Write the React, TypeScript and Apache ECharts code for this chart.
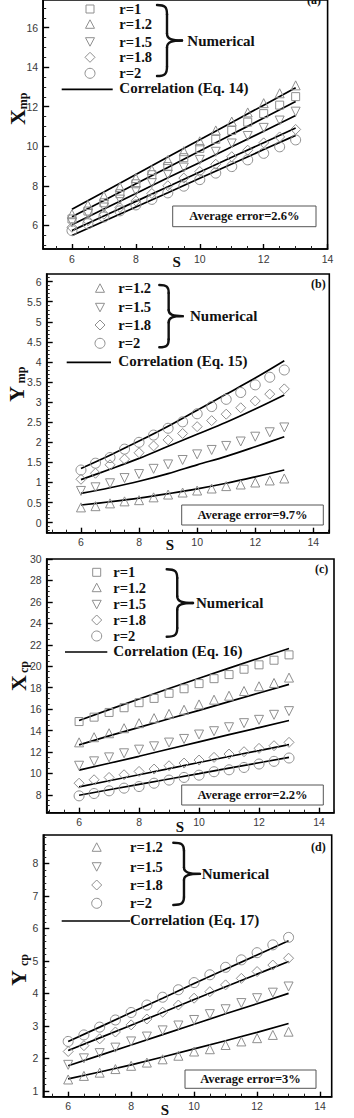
import React, { useEffect, useRef } from "react";
import * as echarts from "echarts";

// Spacing S at which the numerical results are sampled, and at which the correlation curves are listed
const S_PTS = [6, 6.5, 7, 7.5, 8, 8.5, 9, 9.5, 10, 10.5, 11, 11.5, 12, 12.5, 13];
const S_LINE = [6, 7, 8, 9, 10, 11, 12, 13];
const X_TICKS = [6, 8, 10, 12, 14];

// (a) X_mp
const A_R1 = [6.32, 6.72, 7.14, 7.6, 8.1, 8.56, 8.97, 9.42, 9.89, 10.35, 10.8, 11.22, 11.65, 12.08, 12.51];
const A_R12 = [6.56, 7.03, 7.48, 7.94, 8.39, 8.8, 9.3, 9.75, 10.25, 10.8, 11.25, 11.71, 12.18, 12.68, 13.08];
const A_R15 = [6.15, 6.57, 6.9, 7.3, 7.73, 8.14, 8.56, 8.92, 9.31, 9.72, 10.14, 10.52, 10.93, 11.3, 11.75];
const A_R18 = [5.9, 6.23, 6.56, 6.9, 7.23, 7.61, 8.0, 8.39, 8.72, 9.09, 9.47, 9.8, 10.17, 10.47, 10.85];
const A_R2 = [5.73, 6.08, 6.42, 6.73, 7.03, 7.31, 7.64, 7.98, 8.31, 8.64, 8.97, 9.31, 9.64, 9.97, 10.32];
const A_C_R12 = [6.81, 7.69, 8.57, 9.45, 10.33, 11.2, 12.08, 12.96];
const A_C_R1 = [6.43, 7.26, 8.1, 8.93, 9.76, 10.6, 11.43, 12.26];
const A_C_R15 = [6.03, 6.82, 7.61, 8.4, 9.18, 9.97, 10.76, 11.55];
const A_C_R18 = [5.73, 6.47, 7.21, 7.95, 8.7, 9.44, 10.18, 10.92];
const A_C_R2 = [5.48, 6.2, 6.93, 7.65, 8.38, 9.1, 9.83, 10.55];

// (b) Y_mp
const B_R12 = [0.38, 0.41, 0.48, 0.53, 0.56, 0.63, 0.7, 0.75, 0.8, 0.85, 0.91, 0.95, 1.0, 1.05, 1.1];
const B_R15 = [0.79, 0.88, 0.98, 1.11, 1.21, 1.34, 1.45, 1.56, 1.7, 1.81, 1.91, 2.02, 2.14, 2.25, 2.37];
const B_R18 = [1.08, 1.23, 1.44, 1.58, 1.74, 1.91, 2.06, 2.22, 2.39, 2.54, 2.7, 2.86, 3.03, 3.2, 3.33];
const B_R2 = [1.31, 1.48, 1.62, 1.83, 2.0, 2.18, 2.35, 2.51, 2.71, 2.89, 3.07, 3.24, 3.43, 3.62, 3.8];
const B_C_R12 = [0.44, 0.52, 0.61, 0.72, 0.84, 0.98, 1.14, 1.31];
const B_C_R15 = [0.73, 0.87, 1.03, 1.22, 1.44, 1.65, 1.89, 2.14];
const B_C_R18 = [1.07, 1.33, 1.6, 1.9, 2.2, 2.5, 2.83, 3.18];
const B_C_R2 = [1.35, 1.68, 2.03, 2.4, 2.8, 3.2, 3.6, 4.03];

// (c) X_cp
const C_R1 = [14.84, 15.25, 15.69, 16.13, 16.6, 17.0, 17.47, 17.9, 18.38, 18.84, 19.22, 19.72, 20.13, 20.56, 21.06];
const C_R12 = [12.9, 13.38, 13.75, 14.22, 14.69, 15.16, 15.56, 15.94, 16.44, 16.88, 17.25, 17.69, 18.13, 18.44, 18.94];
const C_R15 = [10.72, 11.13, 11.5, 11.88, 12.22, 12.53, 12.88, 13.22, 13.63, 13.94, 14.31, 14.69, 15.0, 15.47, 15.81];
const C_R18 = [9.09, 9.41, 9.63, 9.88, 10.19, 10.41, 10.72, 10.97, 11.25, 11.5, 11.81, 12.03, 12.34, 12.59, 12.9];
const C_R2 = [7.91, 8.13, 8.38, 8.63, 8.78, 9.09, 9.38, 9.63, 9.84, 10.16, 10.34, 10.56, 10.88, 11.13, 11.44];
const C_C_R1 = [14.94, 15.95, 16.95, 17.92, 18.88, 19.82, 20.75, 21.65];
const C_C_R12 = [12.66, 13.5, 14.3, 15.1, 15.88, 16.7, 17.5, 18.31];
const C_C_R15 = [10.31, 10.95, 11.6, 12.28, 12.95, 13.62, 14.28, 14.94];
const C_C_R18 = [8.75, 9.32, 9.88, 10.45, 11.02, 11.58, 12.13, 12.69];
const C_C_R2 = [7.97, 8.48, 8.98, 9.48, 9.98, 10.5, 11.0, 11.5];

// (d) Y_cp
const D_R12 = [1.35, 1.46, 1.56, 1.67, 1.77, 1.87, 1.97, 2.08, 2.21, 2.28, 2.41, 2.52, 2.62, 2.72, 2.82];
const D_R15 = [1.8, 2.0, 2.16, 2.33, 2.52, 2.67, 2.86, 3.01, 3.18, 3.36, 3.51, 3.7, 3.85, 4.02, 4.21];
const D_R18 = [2.21, 2.39, 2.6, 2.81, 3.03, 3.21, 3.42, 3.64, 3.85, 4.05, 4.26, 4.46, 4.67, 4.87, 5.08];
const D_R2 = [2.52, 2.72, 2.96, 3.18, 3.41, 3.64, 3.88, 4.11, 4.33, 4.57, 4.8, 5.03, 5.25, 5.49, 5.72];
const D_C_R12 = [1.37, 1.58, 1.8, 2.04, 2.29, 2.54, 2.8, 3.07];
const D_C_R15 = [1.77, 2.09, 2.41, 2.73, 3.05, 3.37, 3.68, 4.0];
const D_C_R18 = [2.24, 2.63, 3.02, 3.41, 3.81, 4.2, 4.59, 4.98];
const D_C_R2 = [2.52, 2.96, 3.41, 3.85, 4.3, 4.74, 5.18, 5.62];

const SERIF = '"Liberation Serif", "Times New Roman", serif';
const SANS = '"Liberation Sans", Arial, sans-serif';
const MARK = "#8f8f8f";
const LEGEND_FONT = 14.5;

type Kind = "square" | "up" | "down" | "diamond" | "circle";

const PANELS = [
  {
    tag: "(a)", box: [43.2, -3, 284.4, 252], xr: [5.1, 14], yr: [4.8, 17.4],
    yTicks: [6, 8, 10, 12, 14, 16], yMinor: 0.5, smooth: false,
    groups: [
      { name: "r=1", kind: "square" as Kind, pts: A_R1, corr: A_C_R1 },
      { name: "r=1.2", kind: "up" as Kind, pts: A_R12, corr: A_C_R12 },
      { name: "r=1.5", kind: "down" as Kind, pts: A_R15, corr: A_C_R15 },
      { name: "r=1.8", kind: "diamond" as Kind, pts: A_R18, corr: A_C_R18 },
      { name: "r=2", kind: "circle" as Kind, pts: A_R2, corr: A_C_R2 },
    ],
    lg: { mx: 90, lx: 119.3, ys: [9, 24.3, 41.7, 57.3, 73.3], brace: [157, 5, 76, 25], numX: 187.3, lineX: [61.7, 112.7], lineY: 89.3, corr: "Correlation (Eq. 14)" },
    tagPos: [314, 0], err: [172.7, 206, 143.3, 20.7], errText: "Average error=2.6%",
    yTitle: ["X", "mp", 17, 117, 22.5, 101], sPos: [176.7, 261.7],
  },
  {
    tag: "(b)", box: [46.7, 274, 282.6, 258.7], xr: [4.82, 14.55], yr: [-0.25, 6.19],
    yTicks: [0, 0.5, 1, 1.5, 2, 2.5, 3, 3.5, 4, 4.5, 5, 5.5, 6], yMinor: 0.1, smooth: true,
    groups: [
      { name: "r=1.2", kind: "up" as Kind, pts: B_R12, corr: B_C_R12 },
      { name: "r=1.5", kind: "down" as Kind, pts: B_R15, corr: B_C_R15 },
      { name: "r=1.8", kind: "diamond" as Kind, pts: B_R18, corr: B_C_R18 },
      { name: "r=2", kind: "circle" as Kind, pts: B_R2, corr: B_C_R2 },
    ],
    lg: { mx: 100, lx: 118.3, ys: [288.3, 307.3, 325, 343.3], brace: [159.3, 285, 347.3, 23.4], numX: 190, lineX: [66.7, 111], lineY: 362.3, corr: "Correlation (Eq. 15)" },
    tagPos: [318.3, 284], err: [181.7, 505, 141.6, 20], errText: "Average error=9.7%",
    yTitle: ["Y", "mp", 16, 394, 21, 375], sPos: [170, 545],
  },
  {
    tag: "(c)", box: [46.7, 559, 287.3, 253.7], xr: [4.92, 14.5], yr: [6.34, 30],
    yTicks: [8, 10, 12, 14, 16, 18, 20, 22, 24, 26, 28, 30], yMinor: 0.5, smooth: false,
    groups: [
      { name: "r=1", kind: "square" as Kind, pts: C_R1, corr: C_C_R1 },
      { name: "r=1.2", kind: "up" as Kind, pts: C_R12, corr: C_C_R12 },
      { name: "r=1.5", kind: "down" as Kind, pts: C_R15, corr: C_C_R15 },
      { name: "r=1.8", kind: "diamond" as Kind, pts: C_R18, corr: C_C_R18 },
      { name: "r=2", kind: "circle" as Kind, pts: C_R2, corr: C_C_R2 },
    ],
    lg: { mx: 96.7, lx: 113.3, ys: [572.3, 587.7, 604.3, 620, 636], brace: [166.7, 569.3, 636.7, 26.3], numX: 196, lineX: [65, 107.3], lineY: 652, corr: "Correlation (Eq. 16)" },
    tagPos: [321.7, 569.3], err: [181.7, 785, 141.6, 20], errText: "Average error=2.2%",
    yTitle: ["X", "cp", 18, 683, 23.5, 667], sPos: [180, 826.7],
  },
  {
    tag: "(d)", box: [43.3, 835, 288.4, 261.7], xr: [5.21, 14.37], yr: [0.82, 8.87],
    yTicks: [1, 2, 3, 4, 5, 6, 7, 8], yMinor: 0.2, smooth: false,
    groups: [
      { name: "r=1.2", kind: "up" as Kind, pts: D_R12, corr: D_C_R12 },
      { name: "r=1.5", kind: "down" as Kind, pts: D_R15, corr: D_C_R15 },
      { name: "r=1.8", kind: "diamond" as Kind, pts: D_R18, corr: D_C_R18 },
      { name: "r=2", kind: "circle" as Kind, pts: D_R2, corr: D_C_R2 },
    ],
    lg: { mx: 96.7, lx: 130, ys: [847.3, 866.7, 885, 903.3], brace: [173.3, 842.7, 905, 26.7], numX: 201.7, lineX: [61.7, 130], lineY: 921, corr: "Correlation (Eq. 17)" },
    tagPos: [318.3, 846.7], err: [185, 1070, 131, 18.3], errText: "Average error=3%",
    yTitle: ["Y", "cp", 18, 978, 23.5, 960], sPos: [165, 1109.5],
  },
];

// Tick positions between the labelled ones
function minorTicks(lo: number, hi: number, step: number, major: number[]) {
  const out: number[] = [];
  const start = Math.ceil(lo / step - 1e-9);
  const end = Math.floor(hi / step + 1e-9);
  for (let k = start; k <= end; k++) {
    const v = Math.round(k * step * 1000) / 1000;
    if (!major.some((m) => Math.abs(m - v) < 1e-6)) out.push(v);
  }
  return out;
}

const SYMBOL: Record<Kind, string> = {
  square: "rect", up: "triangle", down: "triangle", diamond: "diamond", circle: "circle",
};
const SYMBOL_SIZE: Record<Kind, number> = { square: 8, up: 9, down: 9, diamond: 10, circle: 10 };

function legendMarker(kind: Kind, cx: number, cy: number) {
  const style = { fill: "none", stroke: MARK, lineWidth: 1 };
  if (kind === "circle") return { type: "circle", shape: { cx, cy, r: 5 }, style };
  if (kind === "square") return { type: "rect", shape: { x: cx - 4, y: cy - 4, width: 8, height: 8 }, style };
  if (kind === "diamond")
    return { type: "polygon", shape: { points: [[cx, cy - 5], [cx + 5, cy], [cx, cy + 5], [cx - 5, cy]] }, style };
  if (kind === "up")
    return { type: "polygon", shape: { points: [[cx, cy - 4.5], [cx + 4.5, cy + 4], [cx - 4.5, cy + 4]] }, style };
  return { type: "polygon", shape: { points: [[cx, cy + 4.5], [cx + 4.5, cy - 4], [cx - 4.5, cy - 4]] }, style };
}

// Right-facing curly brace built from bezier segments
function brace(x0: number, top: number, bottom: number, w: number) {
  const h = bottom - top;
  const m = (top + bottom) / 2;
  const sx = x0 + w * 0.4;
  const tip = x0 + w;
  const st = { stroke: "#111", lineWidth: 2.4, fill: "none", lineCap: "round" };
  const bz = (x1: number, y1: number, c1x: number, c1y: number, c2x: number, c2y: number, x2: number, y2: number) => ({
    type: "bezierCurve",
    shape: { x1, y1, cpx1: c1x, cpy1: c1y, cpx2: c2x, cpy2: c2y, x2, y2 },
    style: st,
  });
  return [
    bz(x0, top, x0 + w * 0.32, top, sx, top + h * 0.03, sx, top + h * 0.13),
    { type: "line", shape: { x1: sx, y1: top + h * 0.13, x2: sx, y2: m - h * 0.1 }, style: st },
    bz(sx, m - h * 0.1, sx, m - h * 0.02, x0 + w * 0.6, m, tip, m),
    bz(tip, m, x0 + w * 0.6, m, sx, m + h * 0.02, sx, m + h * 0.1),
    { type: "line", shape: { x1: sx, y1: m + h * 0.1, x2: sx, y2: bottom - h * 0.13 }, style: st },
    bz(sx, bottom - h * 0.13, sx, bottom - h * 0.03, x0 + w * 0.32, bottom, x0, bottom),
  ];
}

function serifText(text: string, x: number, y: number, size: number, align = "left", extra: any = {}) {
  return {
    type: "text",
    x, y,
    ...extra,
    style: {
      text, fontSize: size, fontWeight: "bold", fontFamily: SERIF, fill: "#111",
      textAlign: align, align, textVerticalAlign: "middle", verticalAlign: "middle",
    },
  };
}

function buildOption() {
  const grid: any[] = [];
  const xAxis: any[] = [];
  const yAxis: any[] = [];
  const series: any[] = [];
  const graphic: any[] = [];
  const n = PANELS.length;

  PANELS.forEach((p, i) => {
    const [left, top, width, height] = p.box;
    grid.push({ left, top, width, height, show: true, borderColor: "#000", borderWidth: 1.6, backgroundColor: "transparent", containLabel: false });

    const labelStyle = { fontFamily: SANS, fontSize: 10.5, color: "#3a3a3a" };
    xAxis[i] = {
      gridIndex: i, type: "value", position: "bottom", min: p.xr[0], max: p.xr[1],
      axisLine: { show: true, onZero: false, lineStyle: { color: "#000", width: 1.6 } },
      axisTick: { show: true, inside: true, length: 5, customValues: X_TICKS, lineStyle: { color: "#000", width: 1.4 } },
      axisLabel: { ...labelStyle, margin: 4, customValues: X_TICKS },
      splitLine: { show: false },
    };
    yAxis[i] = {
      gridIndex: i, type: "value", position: "left", min: p.yr[0], max: p.yr[1],
      axisLine: { show: true, onZero: false, lineStyle: { color: "#000", width: 1.6 } },
      axisTick: { show: true, inside: true, length: 6, customValues: p.yTicks, lineStyle: { color: "#000", width: 1.4 } },
      axisLabel: { ...labelStyle, margin: 5, customValues: p.yTicks },
      splitLine: { show: false },
    };
    // overlay axes carrying the short unlabelled ticks
    xAxis[n + i] = {
      gridIndex: i, type: "value", position: "bottom", min: p.xr[0], max: p.xr[1],
      axisLine: { show: false, onZero: false },
      axisTick: { show: true, inside: true, length: 3, customValues: minorTicks(p.xr[0], p.xr[1], 0.5, X_TICKS), lineStyle: { color: "#222", width: 1 } },
      axisLabel: { show: false }, splitLine: { show: false },
    };
    yAxis[n + i] = {
      gridIndex: i, type: "value", position: "left", min: p.yr[0], max: p.yr[1],
      axisLine: { show: false, onZero: false },
      axisTick: { show: true, inside: true, length: 3, customValues: minorTicks(p.yr[0], p.yr[1], p.yMinor, p.yTicks), lineStyle: { color: "#222", width: 1 } },
      axisLabel: { show: false }, splitLine: { show: false },
    };

    p.groups.forEach((g) => {
      series.push({
        type: "line", xAxisIndex: i, yAxisIndex: i, z: 2, silent: true,
        data: S_LINE.map((s, k) => [s, g.corr[k]]),
        symbol: "none", smooth: p.smooth ? 0.35 : false,
        lineStyle: { color: "#000", width: 1.7 },
      });
      series.push({
        type: "scatter", xAxisIndex: i, yAxisIndex: i, z: 3, silent: true,
        data: S_PTS.map((s, k) => [s, g.pts[k]]),
        symbol: SYMBOL[g.kind], symbolSize: SYMBOL_SIZE[g.kind], symbolRotate: g.kind === "down" ? 180 : 0,
        itemStyle: { color: "rgba(0,0,0,0)", borderColor: MARK, borderWidth: 1, opacity: 1 },
      });
    });

    // legend block
    const lg = p.lg;
    p.groups.forEach((g, j) => {
      graphic.push(legendMarker(g.kind, lg.mx, lg.ys[j]));
      graphic.push(serifText(g.name, lg.lx, lg.ys[j], LEGEND_FONT));
    });
    const [bx, bt, bb, bw] = lg.brace;
    graphic.push(...brace(bx, bt, bb, bw));
    graphic.push(serifText("Numerical", lg.numX, (bt + bb) / 2, 15));
    graphic.push({ type: "line", shape: { x1: lg.lineX[0], y1: lg.lineY, x2: lg.lineX[1], y2: lg.lineY }, style: { stroke: "#000", lineWidth: 1.7 } });
    graphic.push(serifText(lg.corr, lg.lx, lg.lineY - 1, 15));

    // panel tag
    graphic.push(serifText(p.tag, p.tagPos[0], p.tagPos[1], 12, "center"));

    // error box
    const [ex, ey, ew, eh] = p.err;
    graphic.push({ type: "rect", shape: { x: ex, y: ey, width: ew, height: eh }, style: { fill: "#fff", stroke: "#555", lineWidth: 1 }, z: 10 });
    graphic.push({ ...serifText(p.errText, ex + ew / 2, ey + eh / 2, 12.5, "center"), z: 11 });

    // axis titles
    const [big, sub, bxp, byp, sxp, syp] = p.yTitle as [string, string, number, number, number, number];
    graphic.push(serifText(big, bxp, byp, 22, "center", { rotation: Math.PI / 2 }));
    graphic.push(serifText(sub, sxp, syp, 12, "center", { rotation: Math.PI / 2 }));
    graphic.push(serifText("S", p.sPos[0], p.sPos[1], 15, "center"));
  });

  return {
    animation: false,
    backgroundColor: "#ffffff",
    grid, xAxis, yAxis, series,
    graphic: { elements: graphic },
  };
}

export default function App() {
  const ref = useRef<HTMLDivElement>(null);
  useEffect(() => {
    if (!ref.current) return;
    const chart = echarts.init(ref.current, null, { renderer: "svg" });
    chart.setOption(buildOption() as any);
    return () => chart.dispose();
  }, []);
  return (
    <div
      ref={ref}
      style={{ position: "absolute", left: 0, top: 0, width: 354, height: 1118, background: "#fff" }}
    />
  );
}
